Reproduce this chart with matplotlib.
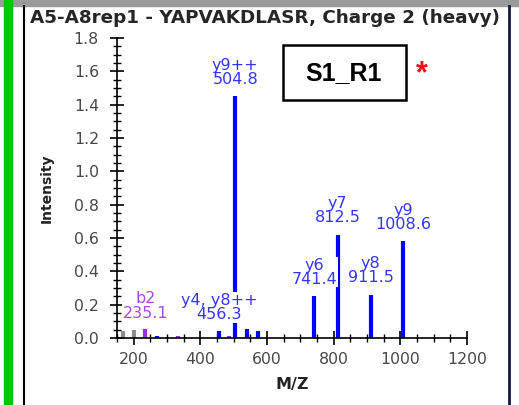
import matplotlib
matplotlib.use("Agg")
import matplotlib.pyplot as plt
from matplotlib.patches import Rectangle
from matplotlib.ticker import MultipleLocator

plt.rcParams['font.family'] = ['DejaVu Sans']

TITLE = "A5-A8rep1 - YAPVAKDLASR, Charge 2 (heavy)"

# peaks: m/z, intensity, ion kind
mz = [167, 200, 235.1, 269, 332, 456.3, 486, 504.8, 540, 572, 741.4, 812.5, 911.5, 1008.6]
intensity = [0.045, 0.05, 0.055, 0.01, 0.01, 0.045, 0.01, 1.45, 0.055, 0.045, 0.25, 0.62, 0.26, 0.58]
kind = ['none', 'none', 'b', 'y', 'b', 'y', 'b', 'y', 'y', 'y', 'y', 'y', 'y', 'y']

# annotated peaks
label_mz = [235.1, 456.3, 504.8, 741.4, 812.5, 911.5, 1008.6]
label_int = [0.055, 0.045, 1.45, 0.25, 0.62, 0.26, 0.58]
label_name = ['b2', 'y4, y8++', 'y9++', 'y6', 'y7', 'y8', 'y9']
label_kind = ['b', 'y', 'y', 'y', 'y', 'y', 'y']

bar_colors = {'none': '#8c8c8c', 'b': '#9a30d8', 'y': '#0000ff'}
text_colors = {'b': '#a848e8', 'y': '#3434ff'}

W, H = 519, 405
fig = plt.figure(figsize=(W / 100, H / 100), dpi=100)

# window decorations
fig.patches.append(Rectangle((0, 1 - 6 / H), 1, 6 / H, transform=fig.transFigure,
                             color='#9a9a9a', zorder=0))
fig.patches.append(Rectangle((4 / W, 0), 8 / W, 1, transform=fig.transFigure,
                             color='#00c800', zorder=0))
fig.add_artist(plt.Line2D([23.5 / W, 23.5 / W], [0, 1 - 6 / H], transform=fig.transFigure,
                          color='black', lw=1.5))
fig.add_artist(plt.Line2D([508.5 / W, 508.5 / W], [0, 1 - 6 / H], transform=fig.transFigure,
                          color='#101840', lw=2))

fig.text(265 / W, 1 - 18 / H, TITLE, ha='center', va='center', fontsize=13.2,
         fontweight='bold', color='#262626')

x0, x1 = 117, 467
y0, y1 = 338, 38
ax = fig.add_axes([x0 / W, 1 - y0 / H, (x1 - x0) / W, (y0 - y1) / H])
ax.set_xlim(150, 1200)
ax.set_ylim(0, 1.8)

for m, v, k in zip(mz, intensity, kind):
    ax.vlines(m, 0, v, color=bar_colors[k], lw=3, zorder=2)

offsets = {'b2': 6, 'y4, y8++': 6}
for m, v, n, k in zip(label_mz, label_int, label_name, label_kind):
    ax.annotate(f"{n}\n{m:.1f}", (m, v), xytext=(0, offsets.get(n, 7)),
                textcoords='offset points', ha='center', va='bottom',
                fontsize=11.5, color=text_colors[k], linespacing=0.92,
                bbox=dict(facecolor='white', edgecolor='none', pad=0.5), zorder=5)

for s in ['top', 'right']:
    ax.spines[s].set_visible(False)
ax.spines['left'].set_linewidth(1.2)
ax.spines['bottom'].set_linewidth(1.2)
ax.set_xticks([200, 400, 600, 800, 1000, 1200])
ax.xaxis.set_minor_locator(MultipleLocator(50))
ax.set_yticks([0.0, 0.2, 0.4, 0.6, 0.8, 1.0, 1.2, 1.4, 1.6, 1.8])
ax.set_yticklabels([f"{t:.1f}" for t in ax.get_yticks()])
ax.yaxis.set_minor_locator(MultipleLocator(0.05))
ax.tick_params(which='major', direction='inout', length=10, width=1.2,
               labelsize=11.3, labelcolor='#484848')
ax.tick_params(which='minor', direction='inout', length=6, width=1)
ax.tick_params(axis='y', pad=8)
ax.tick_params(axis='x', pad=5)

fig.text(47 / W, 1 - 188 / H, "Intensity", rotation=90, ha='center', va='center',
         fontsize=10, fontweight='bold', color='#222222')
fig.text(292 / W, 1 - 385 / H, "M/Z", ha='center', va='center',
         fontsize=11.5, fontweight='bold', color='#222222')

# sample box
fig.patches.append(Rectangle((283 / W, 1 - 100 / H), 123 / W, 55 / H,
                             transform=fig.transFigure, fill=False,
                             edgecolor='black', lw=1.8, zorder=6))
fig.text(344 / W, 1 - 73 / H, "S1_R1", ha='center', va='center',
         fontsize=18, fontweight='bold', color='black', family='Liberation Sans')
fig.text(422 / W, 1 - 74 / H, "*", ha='center', va='center',
         fontsize=22, fontweight='bold', color='#ee1111', family='Liberation Sans')

fig.savefig("out.png", dpi=100)
